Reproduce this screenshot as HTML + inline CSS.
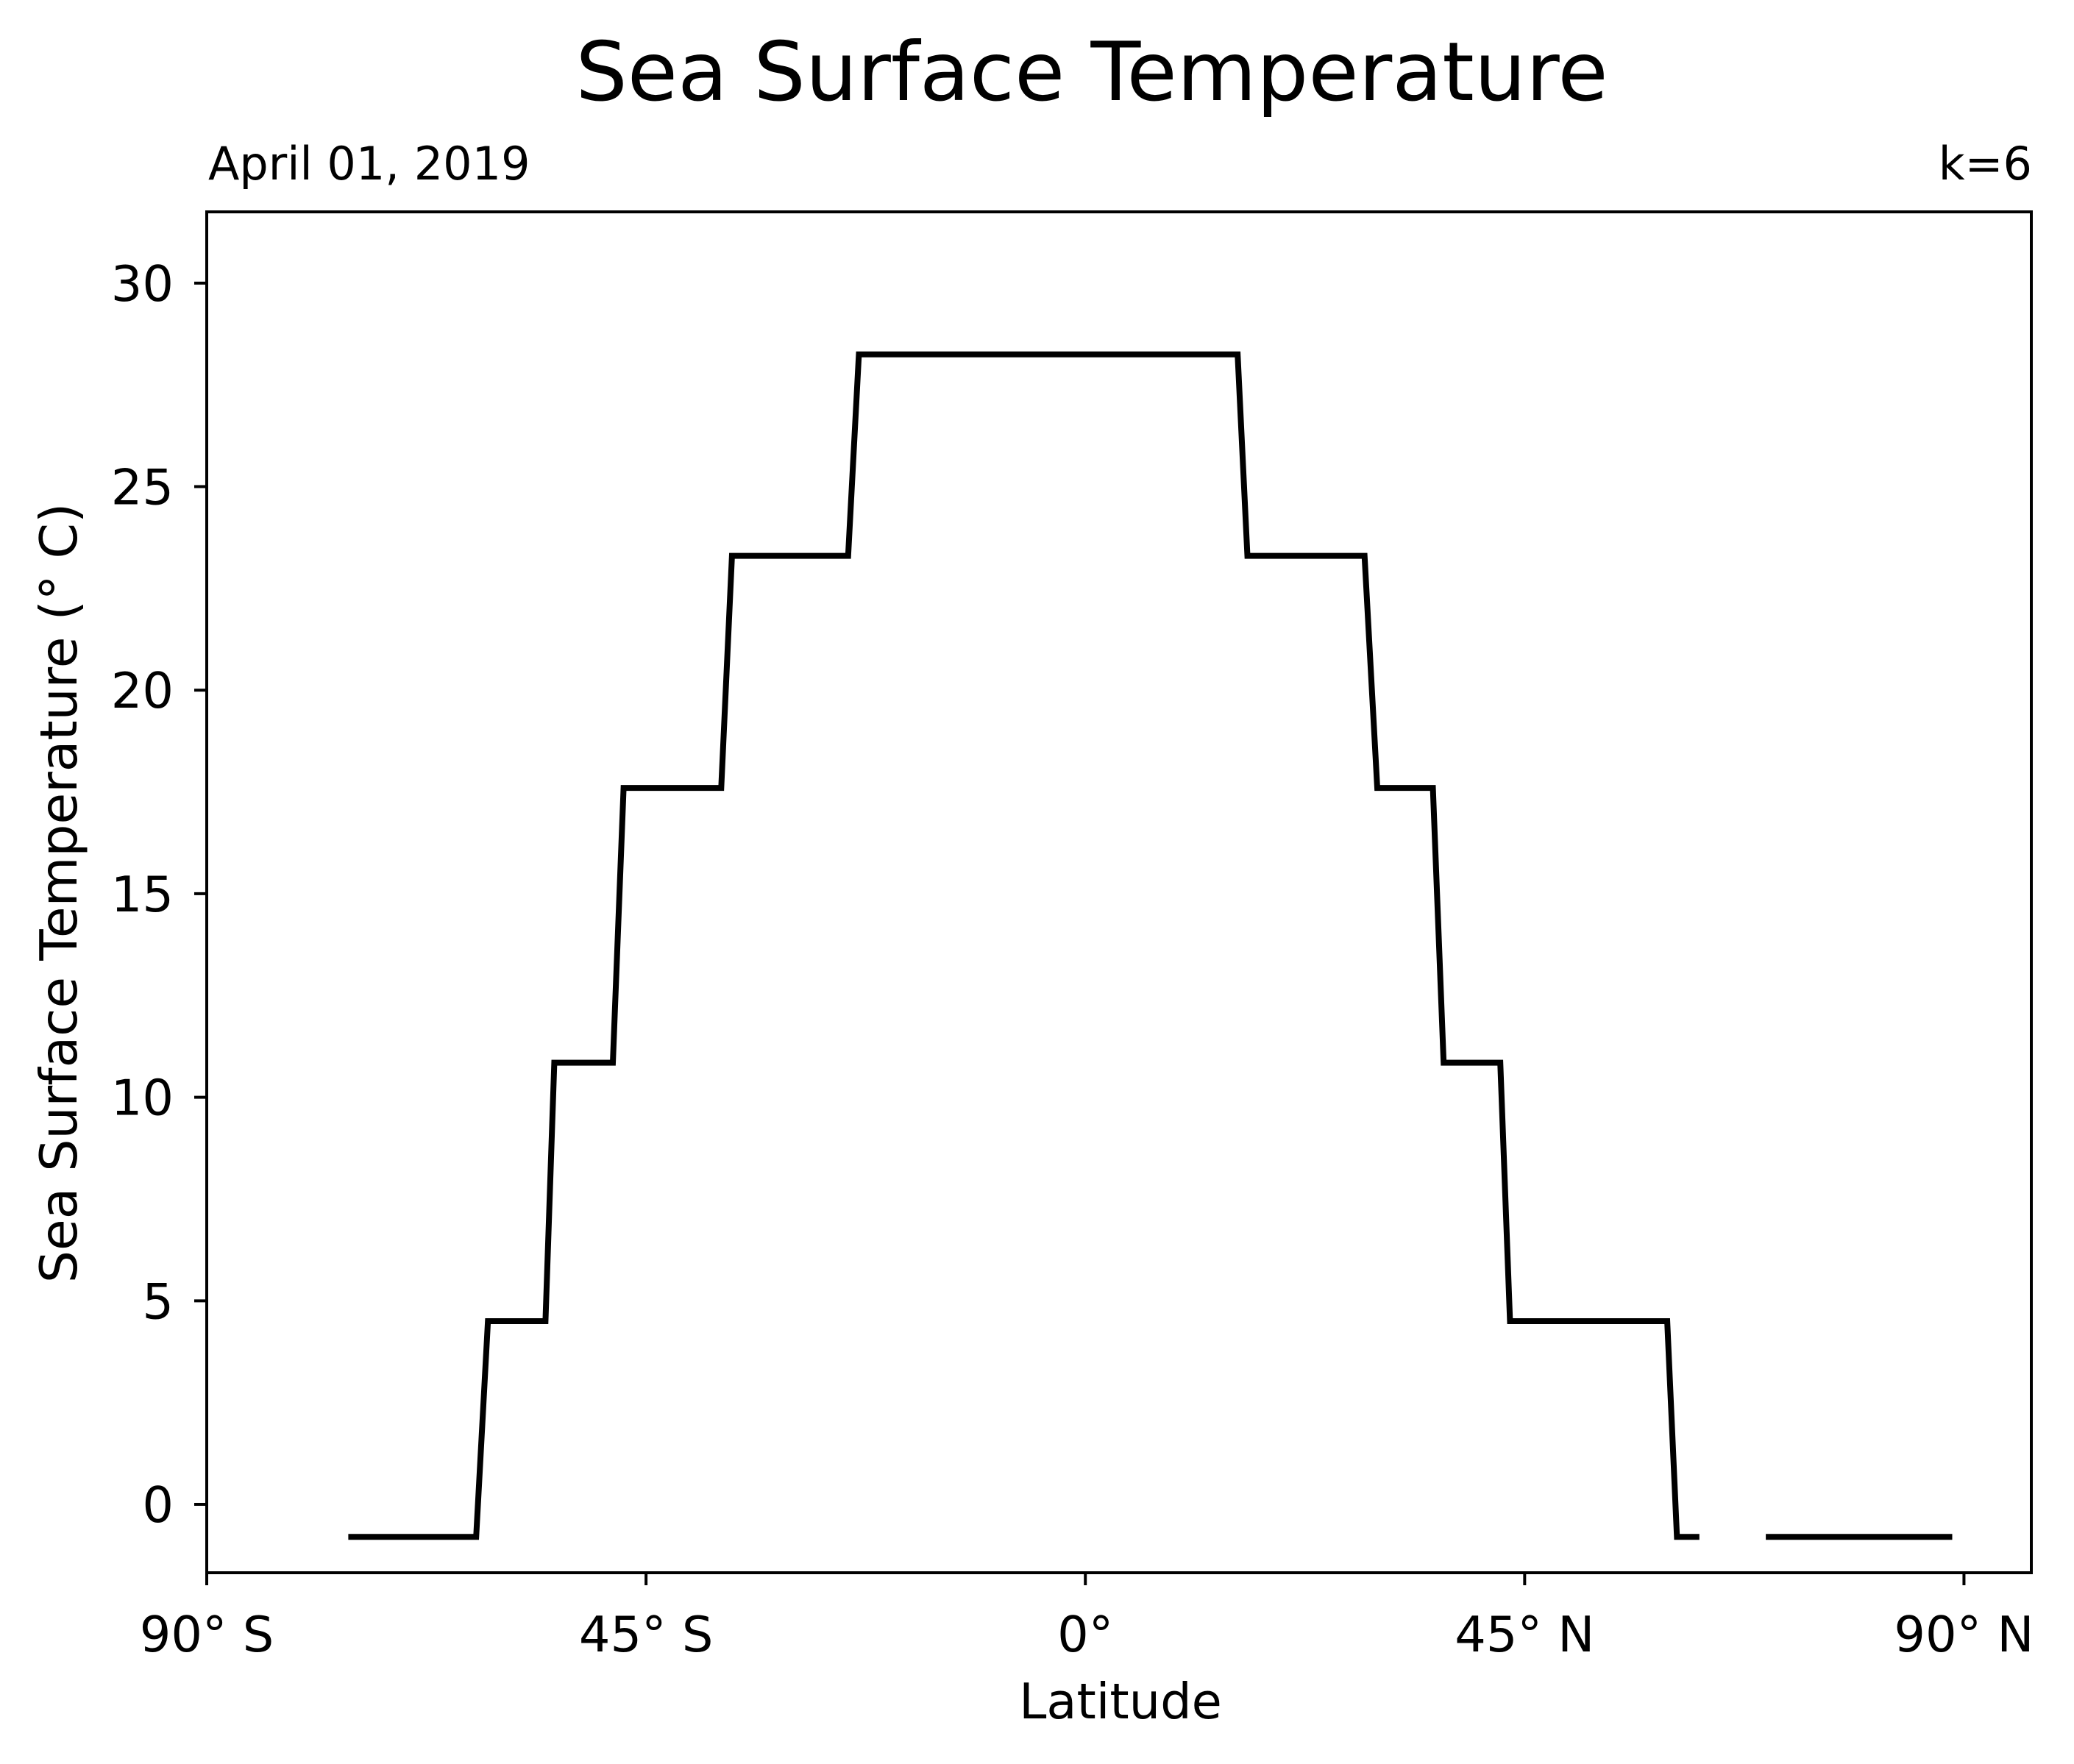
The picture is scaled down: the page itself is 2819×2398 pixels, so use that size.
<!DOCTYPE html>
<html><head><meta charset="utf-8"><style>
html,body{margin:0;padding:0;background:#fff;}
svg{display:block;font-family:"DejaVu Sans","Liberation Sans",sans-serif;}
</style></head><body>
<svg id="chart" width="2819" height="2398" viewBox="0 0 2819 2398" xmlns="http://www.w3.org/2000/svg">
<rect width="2819" height="2398" fill="#fff"/>
<text x="1484" y="136" font-size="111" text-anchor="middle">Sea Surface Temperature</text>
<text x="283" y="244" font-size="62">April 01, 2019</text>
<text x="2762" y="244" font-size="62" text-anchor="end">k=6</text>
<g id="plot"></g>
<rect x="281" y="288" width="2480" height="1850" fill="none" stroke="#000" stroke-width="4"/>
<text x="1523" y="2336" font-size="67" text-anchor="middle">Latitude</text>
<text transform="translate(104,1214) rotate(-90)" font-size="69.5" text-anchor="middle">Sea Surface Temperature (° C)</text>
</svg>
<script>
const lats = [-75.5,-62.4,-61.2,-55.3,-54.4,-48.4,-47.3,-37.3,-36.2,-24.3,-23.2,15.6,16.6,28.6,29.9,35.6,36.7,42.5,43.5,59.6,60.6,62.9,null,69.7,88.8];
const temps = [-0.8,-0.8,4.5,4.5,10.85,10.85,17.6,17.6,23.3,23.3,28.25,28.25,23.3,23.3,17.6,17.6,10.85,10.85,4.5,4.5,-0.8,-0.8,null,-0.8,-0.8];
const xTicks = [-90,-45,0,45,90];
const xTickLabels = ["90° S","45° S","0°","45° N","90° N"];
const yTicks = [0,5,10,15,20,25,30];
const yTickLabels = ["0","5","10","15","20","25","30"];

const NS='http://www.w3.org/2000/svg';
const X0=281, X1=2761, Y0=2138, Y1=288;
const xMin=-90, xMax=96.9, yMin=-1.68, yMax=31.75;
function sx(v){return X0+(v-xMin)/(xMax-xMin)*(X1-X0);}
function sy(v){return Y0-(v-yMin)/(yMax-yMin)*(Y0-Y1);}
const g=document.getElementById('plot');
function mk(tag,attrs){const e=document.createElementNS(NS,tag);for(const k in attrs)e.setAttribute(k,attrs[k]);g.appendChild(e);return e;}

xTicks.forEach((t,i)=>{
  const l=mk('line',{x1:sx(t),x2:sx(t),y1:Y0,y2:Y0+17,stroke:'#000','stroke-width':4});
  
  
  const tx=mk('text',{x:sx(t),y:2245,'font-size':67,'text-anchor':'middle'});
  tx.textContent=xTickLabels[i];
  
  
});
yTicks.forEach((t,i)=>{
  const l=mk('line',{x1:X0-17,x2:X0,y1:sy(t),y2:sy(t),stroke:'#000','stroke-width':4});
  
  
  const tx=mk('text',{x:236,y:sy(t)+24,'font-size':67,'text-anchor':'end'});
  tx.textContent=yTickLabels[i];
  
  
});
let d='',pen=false;
for(let i=0;i<lats.length;i++){
  if(lats[i]===null||temps[i]===null){pen=false;continue;}
  d+=(pen?'L':'M')+sx(lats[i]).toFixed(1)+' '+sy(temps[i]).toFixed(1)+' ';
  pen=true;
}
const p=mk('path',{d:d,fill:'none',stroke:'#000','stroke-width':8,'stroke-linejoin':'miter'});


</script>
</body></html>
